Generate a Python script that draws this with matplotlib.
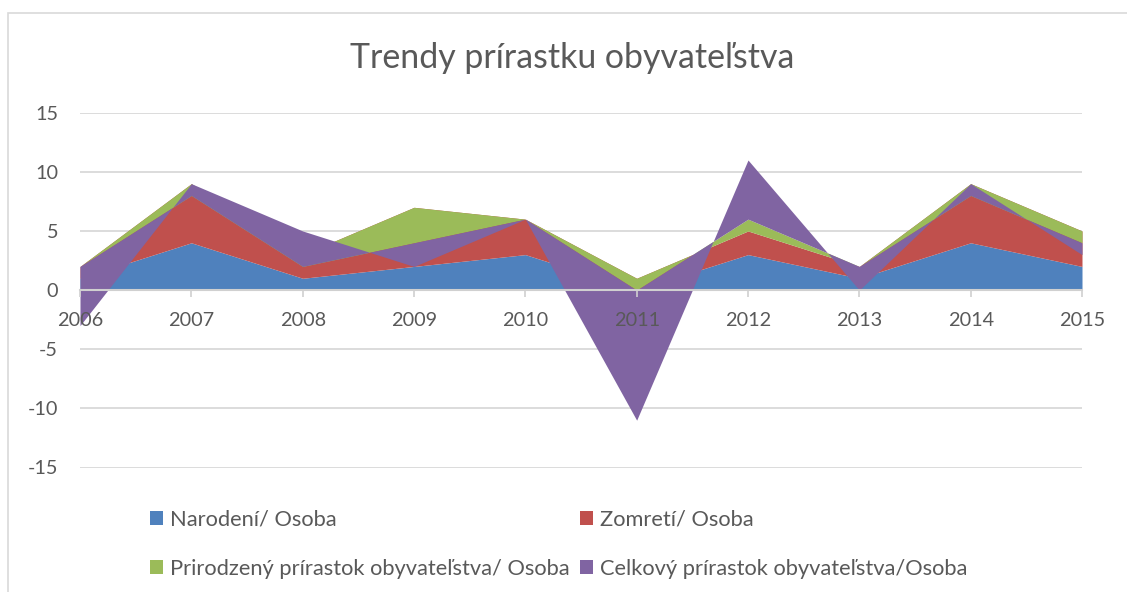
import numpy as np
import matplotlib
matplotlib.use("Agg")
import matplotlib.pyplot as plt
from matplotlib.patches import Patch, Rectangle

# ---------------- data ----------------
years = [2006, 2007, 2008, 2009, 2010, 2011, 2012, 2013, 2014, 2015]
narodeni = [1, 4, 1, 2, 3, 0, 3, 1, 4, 2]
zomreti = [1, 5, 2, 5, 3, 1, 2, 1, 5, 3]
prirodzeny = [0, -1, -1, -3, 0, -1, 1, 0, -1, -1]
celkovy = [-5, 1, 3, -2, 0, -11, 5, -2, 1, -1]
series_labels = ["Narodení/ Osoba", "Zomretí/ Osoba",
                 "Prirodzený prírastok obyvateľstva/ Osoba",
                 "Celkový prírastok obyvateľstva/Osoba"]
title = "Trendy prírastku obyvateľstva"
yticks = [-15, -10, -5, 0, 5, 10, 15]

colors = ["#4F81BD", "#C0504D", "#9BBB59", "#8064A2"]
TXT = "#595959"
GRID = "#D9D9D9"
FONT = ["Lato", "DejaVu Sans"]
plt.rcParams["font.family"] = FONT

W, H = 1127, 592
fig = plt.figure(figsize=(W / 100, H / 100), dpi=100)
renderer = fig.canvas.get_renderer()


def px2pt(px):
    return px * 72.0 / 100.0


def fit_size(s, target_px, base=10):
    t = fig.text(0, 0, s, fontsize=base, family=FONT)
    w = t.get_window_extent(renderer).width
    t.remove()
    return base * target_px / w


# chart frame (extends beyond the image at right and bottom)
fig.patches.append(Rectangle((8.3 / W, -0.2), 1.5, 0.2 + (1 - 13.3 / H),
                             transform=fig.transFigure, fill=False,
                             edgecolor=GRID, lw=1.2, clip_on=False))

ax = fig.add_axes([80 / W, 1 - 467.5 / H, (1082 - 80) / W, (467.5 - 112.7) / H])
ax.set_xlim(years[0], years[-1])
ax.set_ylim(yticks[0], yticks[-1])
ax.patch.set_alpha(0)

# stacked areas (Excel-style: each series filled between cumulative levels)
stack = np.vstack([narodeni, zomreti, prirodzeny, celkovy]).astype(float)
upper = np.cumsum(stack, axis=0)
lower = np.vstack([np.zeros(len(years)), upper[:-1]])
for i in range(4):
    ax.fill_between(years, lower[i], upper[i], color=colors[i], lw=0,
                    zorder=1 + 0.01 * i, label=series_labels[i])

# gridlines
for y in yticks:
    if y != 0:
        ax.axhline(y, color=GRID, lw=1.3, zorder=0.5)

for s in ["top", "right", "left"]:
    ax.spines[s].set_visible(False)
ax.spines["bottom"].set_position(("data", 0))
ax.spines["bottom"].set_color("#D0D0D0")
ax.spines["bottom"].set_linewidth(1.5)
ax.spines["bottom"].set_zorder(3)

tick_fs = fit_size("2007", 46)
ax.set_xticks(years)
ax.set_xticklabels([str(y) for y in years])
ax.set_yticks(yticks)
ax.set_yticklabels([str(y) for y in yticks])
ax.tick_params(axis="x", direction="out", length=px2pt(7), width=1.2,
               color="#D0D0D0", labelsize=tick_fs, labelcolor=TXT,
               pad=px2pt(15))
ax.tick_params(axis="y", length=0, labelsize=tick_fs, labelcolor=TXT,
               pad=px2pt(22))
ax.xaxis.set_zorder(3)

# title
title_fs = fit_size(title, 445)
fig.text(572 / W, 1 - 58 / H, title, ha="center", va="center",
         fontsize=title_fs, color=TXT)

# legend
leg_fs = fit_size(series_labels[2], 402)
fpx = leg_fs * 100 / 72
handles = [Patch(facecolor=c, edgecolor="none") for c in colors]
order = [0, 2, 1, 3]
leg = fig.legend([handles[i] for i in order], [series_labels[i] for i in order],
                 ncol=2, loc="upper left",
                 bbox_to_anchor=(150 / W, 1 - 510 / H),
                 frameon=False, fontsize=leg_fs, labelcolor=TXT,
                 handlelength=13 / fpx, handleheight=13 / fpx,
                 handletextpad=7 / fpx, columnspacing=10 / fpx,
                 labelspacing=29 / fpx, borderpad=0, borderaxespad=0)

fig.savefig("out.png", dpi=100)
